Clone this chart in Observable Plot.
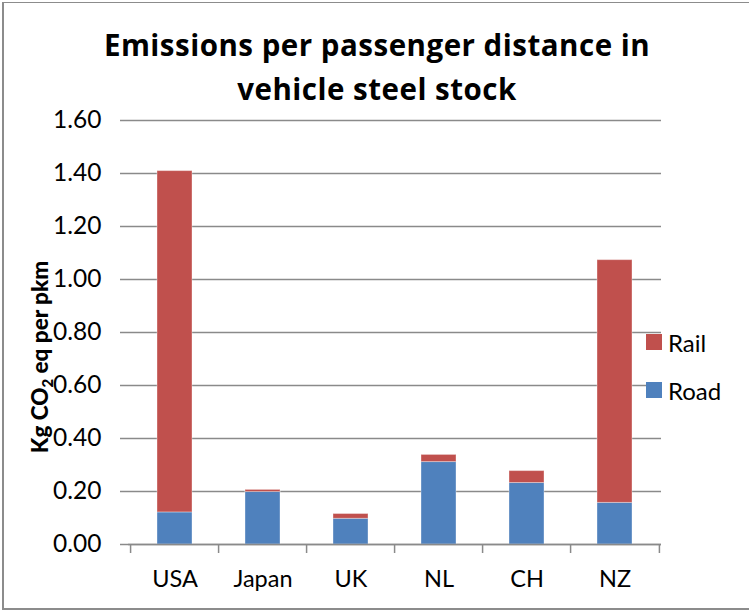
<!DOCTYPE html>
<html>
<head>
<meta charset="utf-8">
<script src="https://cdn.jsdelivr.net/npm/d3@7"></script>
<script src="https://cdn.jsdelivr.net/npm/@observablehq/plot@0.6"></script>
<style>
  html, body { margin: 0; padding: 0; background: #fff; }
  #wrap { position: relative; width: 749px; height: 614px; overflow: hidden; font-family: Lato, "Open Sans", sans-serif; }
  #border { position: absolute; left: 2px; top: 2px; width: 800px; height: 608px; border-left: 2px solid #8c8c8c; border-top: 1.5px solid #8c8c8c; border-bottom: 2px solid #8c8c8c; box-sizing: border-box; }
  #title { position: absolute; left: 27px; width: 700px; top: 23px; text-align: center; font-family: "Open Sans", Lato, sans-serif; font-weight: bold; font-size: 29.5px; letter-spacing: 0.5px; line-height: 44px; color: #000; }
  #ytitle { position: absolute; left: 41px; top: 357px; transform: translate(-50%, -50%) rotate(-90deg); white-space: nowrap; font-weight: 900; font-size: 22.5px; color: #000; }
  #ytitle sub { font-size: 15px; vertical-align: -5px; }
  #legend { position: absolute; left: 646px; top: 330px; font-size: 24px; color: #000; }
  .item { display: flex; align-items: center; height: 24px; margin-bottom: 24px; }
  .sw { width: 16px; height: 16px; margin-right: 6px; }
  #chart { position: absolute; left: 0; top: 0; }
</style>
</head>
<body>
<div id="wrap">
  <div id="chart"></div>
  <div id="border"></div>
  <div id="title">Emissions per passenger distance in<br>vehicle steel stock</div>
  <div id="ytitle">Kg CO<sub>2</sub> eq per pkm</div>
  <div id="legend"></div>
</div>
<script>
// Countries along the category axis
const countries = ["USA", "Japan", "UK", "NL", "CH", "NZ"];
// Stacked components, kg CO2 eq per passenger-km
const road = [0.121, 0.198, 0.097, 0.311, 0.232, 0.157];
const rail = [1.288, 0.008, 0.018, 0.027, 0.045, 0.916];
// Series names and colours (stack order: Road at the bottom)
const seriesNames = ["Road", "Rail"];
const seriesColors = ["#4F81BD", "#C0504D"];
// Value axis ticks
const yTicks = [0, 0.2, 0.4, 0.6, 0.8, 1.0, 1.2, 1.4, 1.6];

const rows = [
  ...countries.map((c, i) => ({country: c, series: "Road", value: road[i]})),
  ...countries.map((c, i) => ({country: c, series: "Rail", value: rail[i]}))
];

const grid = "#8a8a8a";
const bandHalf = (661 - 128) / countries.length / 2;

const chart = Plot.plot({
  width: 749,
  height: 614,
  marginLeft: 128,
  marginRight: 88,
  marginTop: 120,
  marginBottom: 70,
  style: {fontFamily: "Lato, 'Open Sans', sans-serif", fontSize: "24px", color: "#000", background: "transparent"},
  x: {domain: countries, paddingInner: 0.6, paddingOuter: 0.3, label: null},
  y: {domain: [0, 1.6], ticks: yTicks, label: null},
  color: {domain: seriesNames, range: seriesColors},
  marks: [
    Plot.gridY(yTicks, {stroke: grid, strokeOpacity: 1, strokeWidth: 1.5}),
    Plot.barY(rows, {x: "country", y: "value", fill: "series", stroke: "#fff", strokeOpacity: 0.35, strokeWidth: 1}),
    Plot.ruleX([0], {frameAnchor: "left", stroke: grid, strokeWidth: 1.5}),
    Plot.ruleY([0], {stroke: grid, strokeWidth: 1.5}),
    Plot.axisY(yTicks, {tickSize: 8, tickPadding: 19, stroke: grid, strokeWidth: 1.5, tickFormat: d3.format(".2f"), fill: "#000", fontSize: 24.5}),
    // tick marks sit on category boundaries
    Plot.axisX({tickSize: 9, text: null, dx: -bandHalf, stroke: grid, strokeWidth: 1.5}),
    Plot.axisX({ticks: [countries[countries.length - 1]], tickSize: 9, text: null, dx: bandHalf, stroke: grid, strokeWidth: 1.5}),
    Plot.axisX({tickSize: 0, tickPadding: 26, fill: "#000", fontSize: 23.5})
  ]
});
document.getElementById("chart").appendChild(chart);

// Legend, Rail listed above Road
const legend = document.getElementById("legend");
[1, 0].forEach(i => {
  const item = document.createElement("div");
  item.className = "item";
  item.innerHTML = `<div class="sw" style="background:${seriesColors[i]}"></div><span>${seriesNames[i]}</span>`;
  legend.appendChild(item);
});
</script>
</body>
</html>
